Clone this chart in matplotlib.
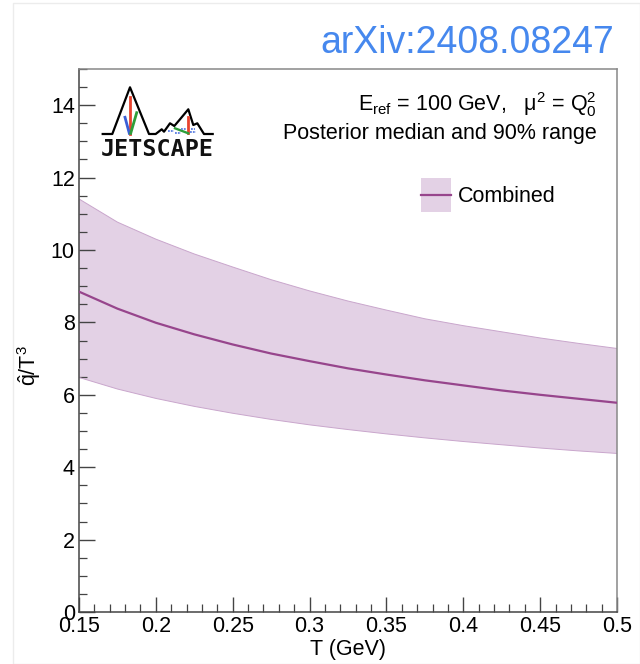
import matplotlib
matplotlib.use("Agg")
import matplotlib.pyplot as plt
from matplotlib.patches import Rectangle
from matplotlib.lines import Line2D

plt.rcParams['font.family'] = ['Liberation Sans', 'DejaVu Sans']
plt.rcParams['mathtext.fontset'] = 'custom'
plt.rcParams['mathtext.rm'] = 'Liberation Sans'
plt.rcParams['mathtext.it'] = 'Liberation Sans:italic'
plt.rcParams['mathtext.default'] = 'regular'

# Temperature grid (GeV) and posterior qhat/T^3 for the combined fit
temperature = [0.15, 0.175, 0.2, 0.225, 0.25, 0.275, 0.3, 0.325,
               0.35, 0.375, 0.4, 0.425, 0.45, 0.475, 0.5]
median = [8.85, 8.38, 7.99, 7.67, 7.39, 7.14, 6.93, 6.73,
          6.56, 6.40, 6.26, 6.12, 6.00, 5.89, 5.78]
upper90 = [11.41, 10.77, 10.30, 9.89, 9.53, 9.18, 8.87, 8.59,
           8.34, 8.10, 7.91, 7.74, 7.57, 7.42, 7.28]
lower90 = [6.48, 6.16, 5.90, 5.68, 5.49, 5.32, 5.17, 5.04,
           4.92, 4.81, 4.71, 4.62, 4.53, 4.45, 4.38]

xticks = [0.15, 0.2, 0.25, 0.3, 0.35, 0.4, 0.45, 0.5]
xticklabels = ['0.15', '0.2', '0.25', '0.3', '0.35', '0.4', '0.45', '0.5']
yticks = [0, 2, 4, 6, 8, 10, 12, 14]
yticklabels = ['0', '2', '4', '6', '8', '10', '12', '14']

W, H = 640, 664
fig = plt.figure(figsize=(W / 100, H / 100), dpi=100)


def fx(px):
    return px / W


def fy(py):
    return 1 - py / H


L, R, T, B = 79, 617, 69, 612
ax = fig.add_axes([fx(L), fy(B), fx(R) - fx(L), fy(T) - fy(B)])

band_color = '#e3d1e5'
edge_color = '#c9a6cc'
line_color = '#97458c'
FS = 15.5

ax.fill_between(temperature, lower90, upper90, facecolor=band_color,
                edgecolor='none', zorder=1)
ax.plot(temperature, upper90, color=edge_color, lw=0.7, zorder=2)
ax.plot(temperature, lower90, color=edge_color, lw=0.7, zorder=2)
ax.plot(temperature, median, color=line_color, lw=1.6, zorder=3)

ax.set_xlim(0.15, 0.5)
ax.set_ylim(0, 15)
ax.set_xticks(xticks)
ax.set_xticklabels(xticklabels)
ax.set_yticks(yticks)
ax.set_yticklabels(yticklabels)
ax.set_xticks([0.15 + 0.01 * i for i in range(36)], minor=True)
ax.set_yticks([0.5 * i for i in range(31)], minor=True)

ax.tick_params(axis='both', which='both', direction='in', top=False,
               right=False, color='#444444', labelsize=FS)
ax.tick_params(axis='y', which='major', length=11.5, width=1.0, pad=3)
ax.tick_params(axis='y', which='minor', length=6, width=0.9)
ax.tick_params(axis='x', which='major', length=11, width=1.0, pad=3)
ax.tick_params(axis='x', which='minor', length=5.5, width=0.9)

for side in ['left', 'bottom']:
    ax.spines[side].set_color('#444444')
    ax.spines[side].set_linewidth(1.1)
for side in ['top', 'right']:
    ax.spines[side].set_color('#888888')
    ax.spines[side].set_linewidth(1.1)

fig.text(fx(348), fy(650), 'T (GeV)', ha='center', va='center', fontsize=FS)
fig.text(fx(29), fy(366), r'$\hat{q}$/T$^{3}$', ha='center', va='center',
         rotation=90, fontsize=FS)

# Annotations
fig.text(fx(597), fy(105), 'E$_{ref}$ = 100 GeV,   \u03bc$^{2}$ = Q$_{0}^{2}$',
         ha='right', va='center', fontsize=FS)
fig.text(fx(597), fy(133), 'Posterior median and 90% range',
         ha='right', va='center', fontsize=FS)
fig.text(fx(614), fy(43), 'arXiv:2408.08247', ha='right', va='center',
         fontsize=27, color='#4688ee')

# Legend entry
fig.patches.append(Rectangle((fx(421), fy(212)), fx(451) - fx(421),
                             fy(178) - fy(212), transform=fig.transFigure,
                             facecolor=band_color, edgecolor='none'))
fig.lines.append(Line2D([fx(421), fx(451)], [fy(195), fy(195)],
                        transform=fig.transFigure, color=line_color, lw=1.6))
fig.text(fx(458), fy(197), 'Combined', ha='left', va='center', fontsize=FS)

# JETSCAPE logo
mountain = [(102.7, 134), (112.3, 134), (130, 87.3), (149, 134), (155.7, 134),
            (161.7, 129.3), (164, 131.7), (170, 123.3), (174.3, 126),
            (180, 119.3), (188.3, 109.3), (193.3, 125), (197.3, 123.3),
            (204, 134), (212.7, 134)]
fig.lines.append(Line2D([fx(p[0]) for p in mountain],
                        [fy(p[1]) for p in mountain],
                        transform=fig.transFigure, color='black', lw=1.6))
logo_strokes = [
    ((130, 96.7), (130, 133.5), '#e8432f', 2.0),
    ((125, 117.3), (129.3, 133.3), '#3b5fd6', 2.0),
    ((136.7, 112.7), (130.7, 133.3), '#2e9e3a', 2.0),
    ((188.3, 116.7), (188.3, 133.3), '#e8432f', 2.0),
    ((175, 128.3), (188.3, 133.3), '#2e9e3a', 1.7),
]
for (x0, y0), (x1, y1), c, w in logo_strokes:
    fig.lines.append(Line2D([fx(x0), fx(x1)], [fy(y0), fy(y1)],
                            transform=fig.transFigure, color=c, lw=w))
for (x0, x1, yy) in [(168, 174, 131), (175, 181, 133), (181, 186, 129),
                     (190, 196, 132), (191, 195, 129)]:
    fig.lines.append(Line2D([fx(x0), fx(x1)], [fy(yy), fy(yy)],
                            transform=fig.transFigure, color='#5a7de0',
                            lw=1.3, ls=(0, (1, 0.6))))
fig.text(fx(157.7), fy(150), 'JETSCAPE', ha='center', va='center',
         fontsize=16.8, fontweight='bold', family='DejaVu Sans Mono',
         color='#111111')

# faint canvas border
fig.patches.append(Rectangle((fx(13), 0), 1 - fx(13), fy(3), transform=fig.transFigure,
                             facecolor='none', edgecolor='#ececec', lw=1.0))

fig.savefig('out.png', dpi=100)
